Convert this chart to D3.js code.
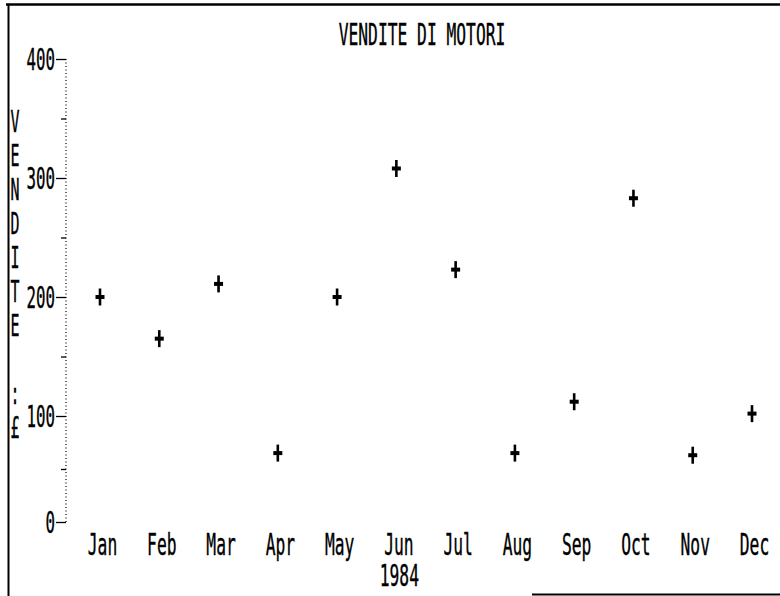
<!DOCTYPE html>
<html>
<head>
<meta charset="utf-8">
<script src="https://cdn.jsdelivr.net/npm/d3@7"></script>
<style>
  body { margin: 0; background: #fff; }
  svg text { font-family: "DejaVu Sans Mono", monospace; fill: #000; stroke: #000; stroke-width: 0.4px; }
</style>
</head>
<body>
<svg id="chart" width="780" height="596"></svg>
<script>
// dati
const months = ["Jan", "Feb", "Mar", "Apr", "May", "Jun", "Jul", "Aug", "Sep", "Oct", "Nov", "Dec"];
const sales = [200, 165, 211, 65, 200, 308, 223, 65, 112, 283, 63, 102];
const majorTicks = [0, 100, 200, 300, 400];
const minorTicks = [50, 150, 250, 350];
const title = "VENDITE DI MOTORI";
const yLabel = "VENDITE :£";
const yearLabel = "1984";

const svg = d3.select("#chart");
const W = 780, H = 596;
const FS = 29.5;     // dimensione carattere
const CW = 9.8;      // larghezza di un carattere (font compresso)

// scala y: il vecchio plotter mette lo 0 un po' più in alto
const y = d3.scaleLinear().domain([0, 100, 400]).range([522, 416, 59]);
const x = d3.scalePoint().domain(months).range([100, 752]);
const axisX = 66;

// comprime il testo come il font del plotter
function squeeze(sel, n) {
    sel.attr("font-size", FS)
        .attr("lengthAdjust", "spacingAndGlyphs")
        .attr("textLength", n);
}

// cornice
svg.append("line").attr("x1", 6).attr("x2", W).attr("y1", 4.5).attr("y2", 4.5)
    .attr("stroke", "#000").attr("stroke-width", 2.5);
svg.append("line").attr("x1", 8.5).attr("x2", 8.5).attr("y1", 4).attr("y2", H)
    .attr("stroke", "#000").attr("stroke-width", 2);
svg.append("line").attr("x1", 532).attr("x2", W).attr("y1", 594.5).attr("y2", 594.5)
    .attr("stroke", "#000").attr("stroke-width", 2);

// titolo
svg.append("text")
    .attr("x", 422).attr("y", 45)
    .attr("text-anchor", "middle")
    .call(squeeze, title.length * CW)
    .text(title);

// asse y punteggiato
svg.append("line")
    .attr("x1", axisX).attr("x2", axisX)
    .attr("y1", y(400)).attr("y2", y(0))
    .attr("stroke", "#000").attr("stroke-width", 1.2)
    .attr("stroke-dasharray", "1,2.5");

const yAxis = svg.append("g")
    .attr("transform", `translate(${axisX},0)`)
    .call(d3.axisLeft(y).tickValues(majorTicks).tickSize(10).tickPadding(1).tickFormat(d3.format("d")));
yAxis.select(".domain").remove();
yAxis.selectAll("line").attr("stroke", "#000").attr("stroke-width", 1.3);
yAxis.selectAll("text")
    .attr("dy", "0.36em")
    .each(function(d) { d3.select(this).call(squeeze, String(d).length * 9.5); });

const yMinor = svg.append("g")
    .attr("transform", `translate(${axisX},0)`)
    .call(d3.axisLeft(y).tickValues(minorTicks).tickSize(5).tickFormat(""));
yMinor.select(".domain").remove();
yMinor.selectAll("line").attr("stroke", "#000").attr("stroke-width", 1.3);

// etichetta verticale
svg.append("g").selectAll("text")
    .data(yLabel.split("").map((c, i) => ({ c, i })).filter(d => d.c !== " "))
    .join("text")
    .attr("x", 15)
    .attr("y", d => 121 + d.i * 34)
    .attr("dy", "0.36em")
    .attr("text-anchor", "middle")
    .call(squeeze, 9)
    .text(d => d.c);

// asse x (solo etichette)
const xAxis = svg.append("g")
    .attr("transform", "translate(2,0)")
    .call(d3.axisBottom(x).tickSize(0).tickPadding(0));
xAxis.select(".domain").remove();
xAxis.selectAll("line").remove();
xAxis.selectAll("text")
    .attr("y", 555).attr("dy", 0)
    .call(squeeze, 3 * CW);

svg.append("text")
    .attr("x", x("Jun") + 3).attr("y", 586)
    .attr("text-anchor", "middle")
    .call(squeeze, yearLabel.length * CW)
    .text(yearLabel);

// punti a croce
const marks = svg.append("g").selectAll("g")
    .data(months.map((m, i) => ({ m, v: sales[i] })))
    .join("g")
    .attr("transform", d => `translate(${x(d.m)},${y(d.v)})`);
marks.append("rect").attr("x", -1.3).attr("y", -8.5).attr("width", 2.6).attr("height", 17).attr("fill", "#000");
marks.append("rect").attr("x", -4.5).attr("y", -2).attr("width", 9).attr("height", 4).attr("fill", "#000");
</script>
</body>
</html>
